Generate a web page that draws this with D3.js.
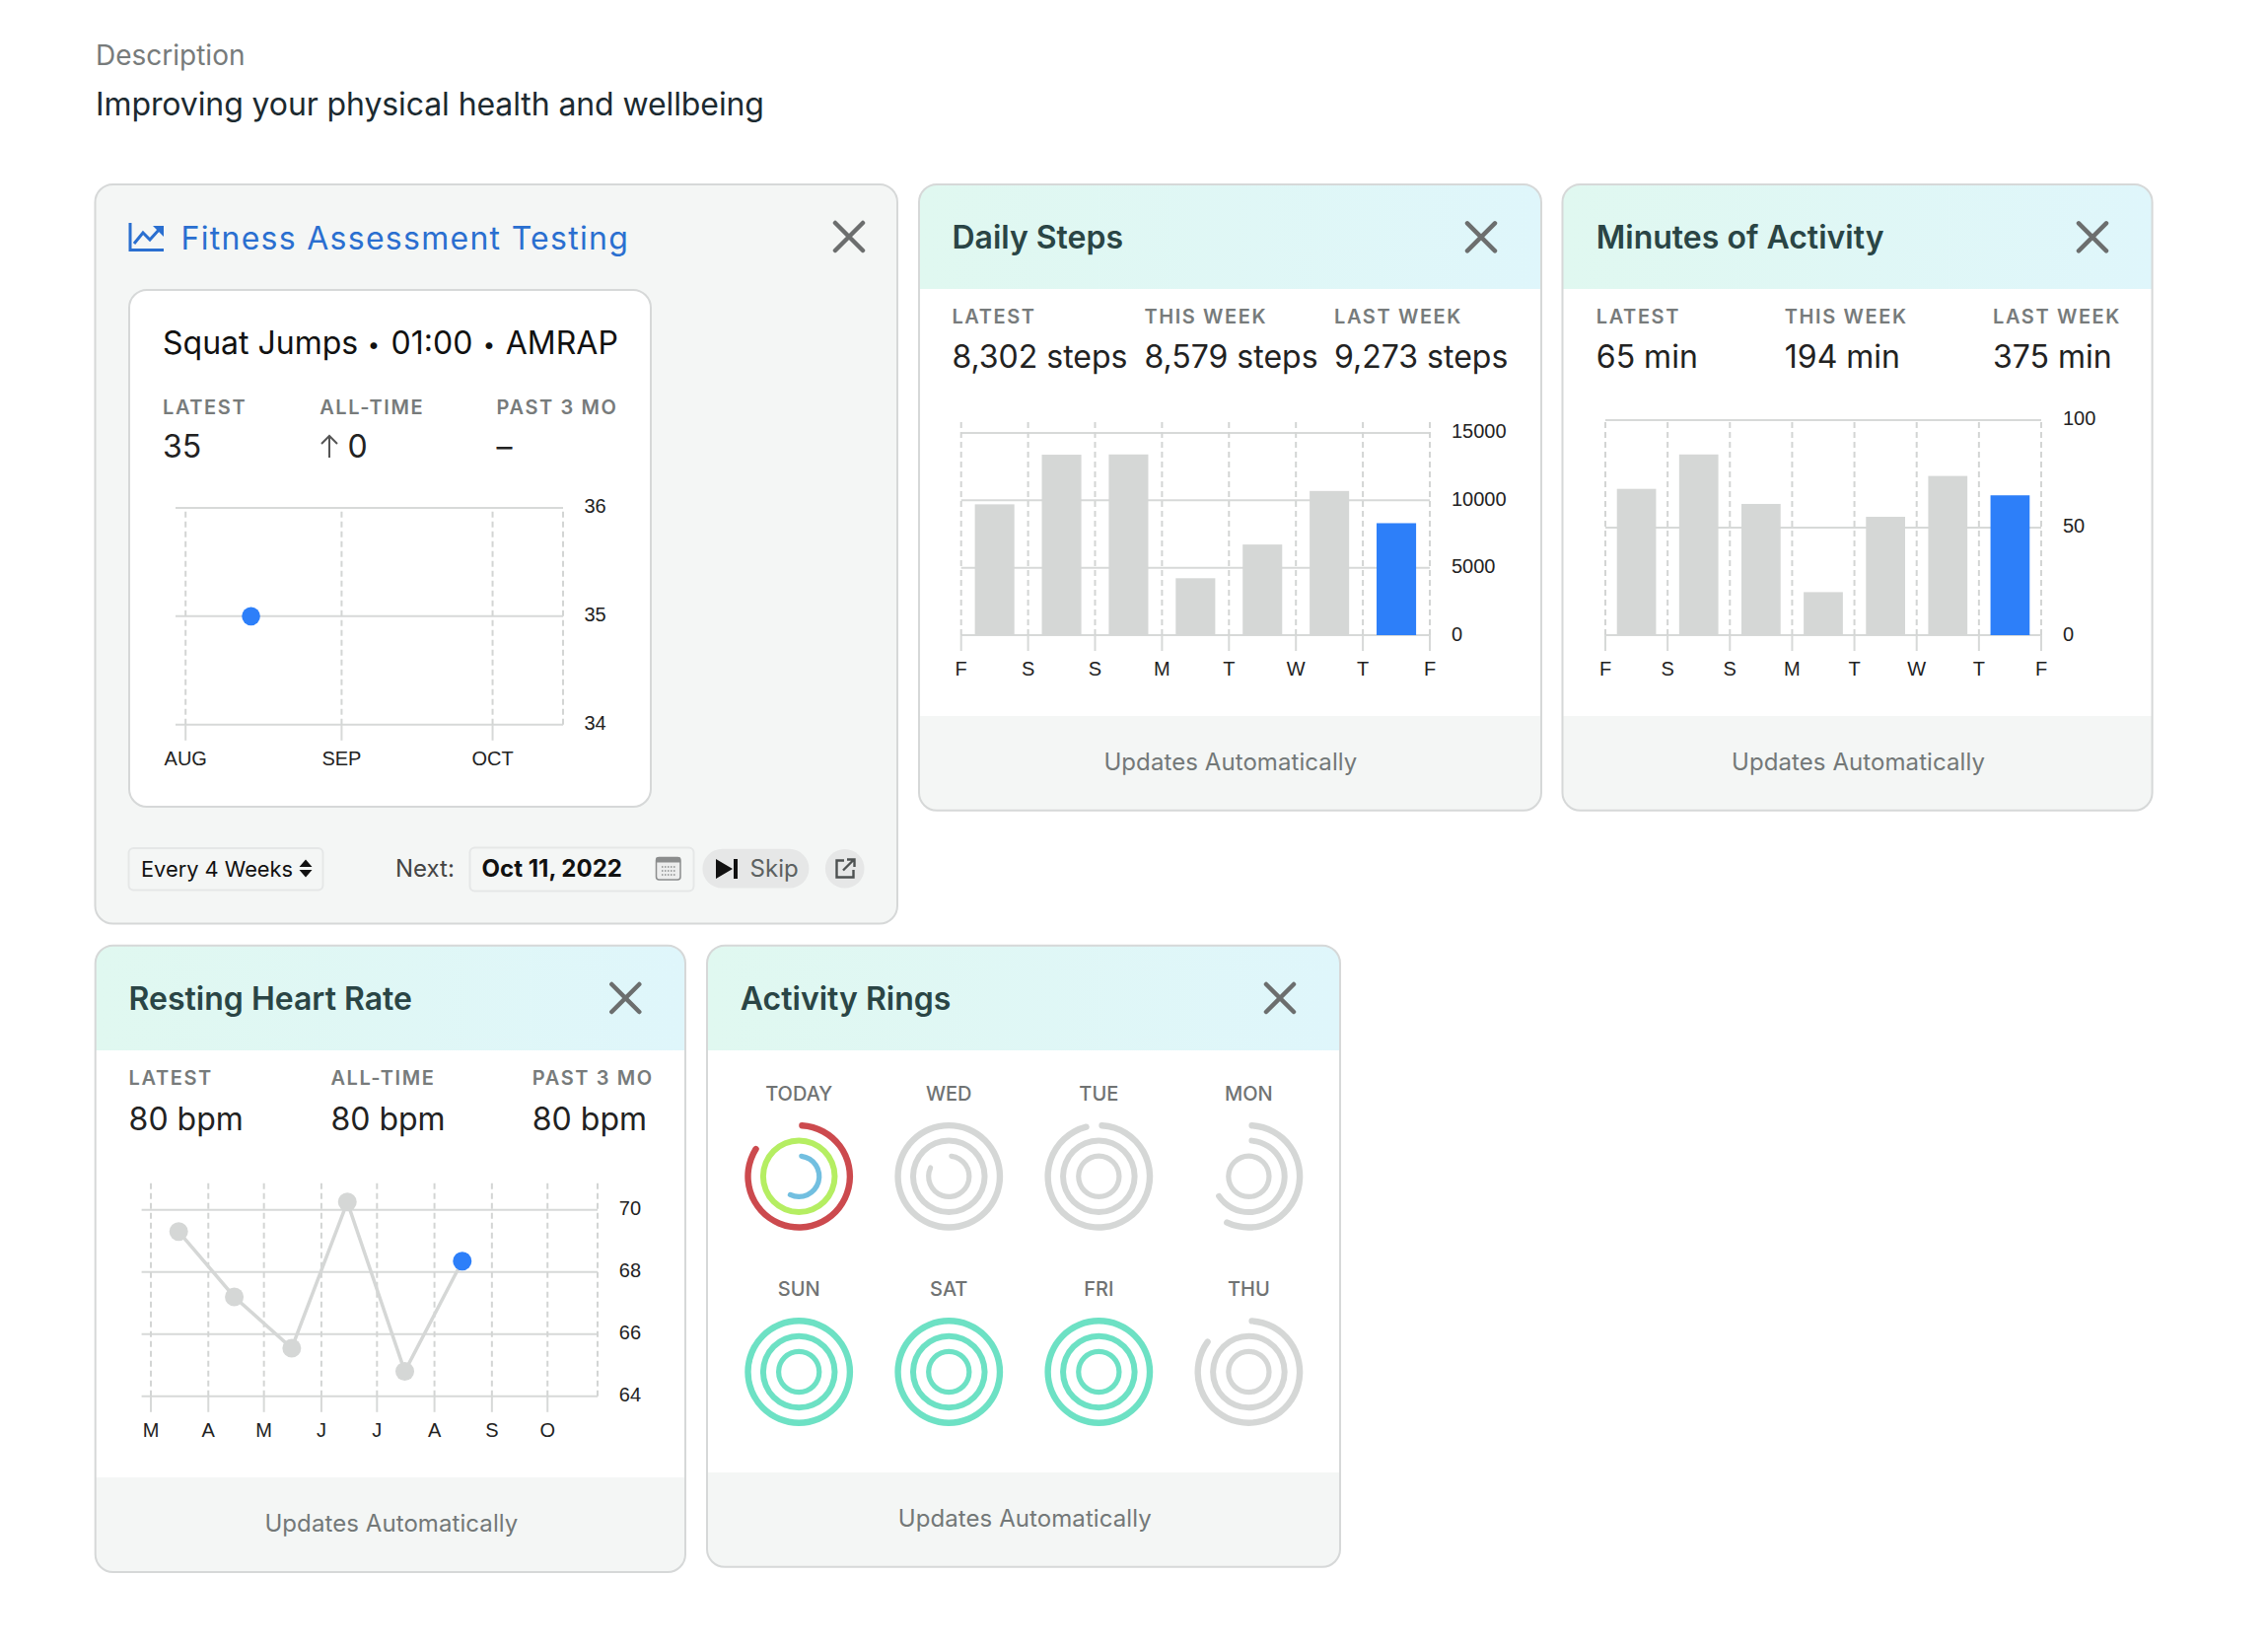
<!DOCTYPE html>
<meta charset="utf-8">
<style>
  body { margin: 0; background: #fff; }
  text { font-family: Inter, sans-serif; }
  .axis text { font-family: "Liberation Sans", Arial, sans-serif; font-size: 20px; fill: #222; }
</style>
<script src="https://d3js.org/d3.v7.min.js"></script>
<div id="page"></div>
<script>
// ---- data ----
var stepDays = ["F", "S", "S", "M", "T", "W", "T", "F"];
var stepValues = [9700, 13380, 13400, 4220, 6720, 10690, 8302];
var stepTicks = [0, 5000, 10000, 15000];

var minuteDays = ["F", "S", "S", "M", "T", "W", "T", "F"];
var minuteValues = [68, 84, 61, 20, 55, 74, 65];
var minuteTicks = [0, 50, 100];

var heartMonths = ["M", "A", "M", "J", "J", "A", "S", "O"];
var heartMonthDates = ["2022-03-01", "2022-04-01", "2022-05-01", "2022-06-01", "2022-07-01", "2022-08-01", "2022-09-01", "2022-10-01"];
var heartDates = ["2022-03-16", "2022-04-15", "2022-05-16", "2022-06-15", "2022-07-16", "2022-08-16"];
var heartValues = [69.3, 67.2, 65.55, 70.25, 64.8, 68.35];
var heartTicks = [64, 66, 68, 70];

var squatMonths = ["AUG", "SEP", "OCT"];
var squatMonthDates = ["2022-08-01", "2022-09-01", "2022-10-01"];
var squatDates = ["2022-08-14"];
var squatValues = [35];
var squatTicks = [34, 35, 36];

var ringDays = ["TODAY", "WED", "TUE", "MON", "SUN", "SAT", "FRI", "THU"];
var ringOuter = [0.85, 1, 0.97, 0.58, 1, 1, 1, 0.86];
var ringMiddle = [1, 1, 1, 0.67, 1, 1, 1, 1];
var ringInner = [0.59, 0.84, 1, 1, 1, 1, 1, 1];

var GRAY = "#d5d7d6", BLUE = "#2d7ff9", TEAL = "#6de1c4", BORDER = "#d6d8d8", PANEL = "#f4f6f5";
var parseDay = d3.timeParse("%Y-%m-%d");

var svg = d3.select("#page").append("svg").attr("width", 2300).attr("height", 1671);
var defs = svg.append("defs");
var grad = defs.append("linearGradient").attr("id", "headGrad");
grad.append("stop").attr("offset", "0%").attr("stop-color", "#e0f8f0");
grad.append("stop").attr("offset", "100%").attr("stop-color", "#dff6fb");

function txt(parent, x, y, str, o) {
  o = o || {};
  return parent.append("text").attr("x", x).attr("y", y).text(str)
    .attr("font-size", o.size || 24)
    .attr("font-weight", o.weight || 400)
    .attr("fill", o.fill || "#222")
    .attr("letter-spacing", o.ls || 0)
    .attr("text-anchor", o.anchor || "start");
}

function closeIcon(cx, cy, s) {
  svg.append("path")
    .attr("d", "M" + (cx - s) + "," + (cy - s) + "L" + (cx + s) + "," + (cy + s) + "M" + (cx - s) + "," + (cy + s) + "L" + (cx + s) + "," + (cy - s))
    .attr("stroke", "#6c6e6e").attr("stroke-width", 4.5).attr("stroke-linecap", "round");
}

var cardCount = 0;
// white card with the gradient head and the grey footer
function card(c) {
  var id = "clip" + (cardCount++);
  defs.append("clipPath").attr("id", id).append("rect")
    .attr("x", c.x0).attr("y", c.y0).attr("width", c.x1 - c.x0).attr("height", c.y1 - c.y0).attr("rx", 18);
  var g = svg.append("g").attr("clip-path", "url(#" + id + ")");
  g.append("rect").attr("x", c.x0).attr("y", c.y0).attr("width", c.x1 - c.x0).attr("height", c.y1 - c.y0).attr("fill", "#fff");
  g.append("rect").attr("x", c.x0).attr("y", c.y0).attr("width", c.x1 - c.x0).attr("height", c.head - c.y0).attr("fill", "url(#headGrad)");
  g.append("rect").attr("x", c.x0).attr("y", c.foot).attr("width", c.x1 - c.x0).attr("height", c.y1 - c.foot).attr("fill", PANEL);
  svg.append("rect").attr("x", c.x0).attr("y", c.y0).attr("width", c.x1 - c.x0).attr("height", c.y1 - c.y0).attr("rx", 18)
    .attr("fill", "none").attr("stroke", BORDER).attr("stroke-width", 2);
  txt(svg, c.titleX, c.y0 + 65, c.title, { size: 32, weight: 600, fill: "#2a4545" });
  closeIcon(c.closeX, c.y0 + 53.3, 14);
  txt(svg, c.footX, c.foot + 55, "Updates Automatically", { size: 24, fill: "#737878", ls: 0.08 });
}

function stats(labels, values, xs, yLabel, yValue) {
  labels.forEach(function(l, i) {
    txt(svg, xs[i], yLabel, l, { size: 20, weight: 600, fill: "#777b7b", ls: 1.6 });
    txt(svg, xs[i], yValue, values[i], { size: 32, fill: "#222" });
  });
}

// gridlines and axes, shared by all four charts
function frame(x, y, o) {
  var g = svg.append("g");
  var yr = y.range(), base = yr[0], xr = x.range();
  // horizontal grid
  var gridY = d3.axisLeft(y).offset(0).tickValues(o.yTicks).tickSize(-(xr[1] - xr[0])).tickFormat("");
  g.append("g").attr("transform", "translate(" + xr[0] + ",0)").call(gridY)
    .call(function(a) { a.select(".domain").remove(); a.selectAll("line").attr("stroke", "#d7d9d8").attr("stroke-width", 2); });
  // dashed verticals
  var gridX = d3.axisBottom(x).offset(0).tickValues(o.dashTicks).tickSize(-(base - o.dashTop)).tickFormat("");
  g.append("g").attr("transform", "translate(0," + base + ")").call(gridX)
    .call(function(a) { a.select(".domain").remove(); a.selectAll("line").attr("stroke", "#d3d5d4").attr("stroke-width", 2).attr("stroke-dasharray", "6,4"); });
  // month or day labels with their solid ticks
  var axX = d3.axisBottom(x).offset(0).tickValues(o.xTicks).tickSize(16).tickPadding(13)
    .tickFormat(function(d, i) { return o.xLabels[i]; });
  g.append("g").attr("class", "axis").attr("transform", "translate(0," + base + ")").call(axX)
    .call(function(a) { a.select(".domain").remove(); a.selectAll("line").attr("stroke", "#d7d9d8").attr("stroke-width", 2); a.selectAll("text").attr("dy", 0).attr("y", 40.8); });
  // value labels
  var axY = d3.axisRight(y).offset(0).tickValues(o.yTicks).tickSize(0).tickPadding(o.yPad).tickFormat(d3.format("d"));
  g.append("g").attr("class", "axis").attr("transform", "translate(" + xr[1] + ",0)").call(axY)
    .call(function(a) { a.select(".domain").remove(); a.selectAll("text").attr("dy", 0).attr("y", 5.5); });
  return g;
}

function barChart(values, ticks, days, box) {
  var y = d3.scaleLinear().domain([0, d3.max(ticks)]).range([box.base, box.top]);
  var x = d3.scaleLinear().domain([0, values.length]).range([box.left, box.right]);
  var band = d3.scaleBand().domain(d3.range(values.length)).range([box.left, box.right]).paddingInner(box.gap).paddingOuter(box.gap / 2);
  var tickIdx = d3.range(values.length + 1);
  frame(x, y, { yTicks: ticks, dashTicks: tickIdx, dashTop: box.dashTop, xTicks: tickIdx, xLabels: days, yPad: box.yPad });
  svg.append("g").selectAll("rect").data(values).join("rect")
    .attr("x", function(d, i) { return band(i); })
    .attr("width", band.bandwidth())
    .attr("y", function(d) { return y(d); })
    .attr("height", function(d) { return y(0) - y(d); })
    .attr("fill", function(d, i) { return i === values.length - 1 ? BLUE : GRAY; });
}

// ---- page head ----
txt(svg, 97, 65.5, "Description", { size: 28, fill: "#777b7b" });
txt(svg, 97, 117, "Improving your physical health and wellbeing", { size: 32, fill: "#1c2a30", ls: -0.1 });

// ---- Fitness Assessment Testing ----
svg.append("rect").attr("x", 96.5).attr("y", 187).attr("width", 813.5).attr("height", 749.5).attr("rx", 18)
  .attr("fill", PANEL).attr("stroke", BORDER).attr("stroke-width", 2);
svg.append("path").attr("d", "M132,226V253.5H166M136,247L145,236L152,243L162,232")
  .attr("fill", "none").attr("stroke", "#2a6fd0").attr("stroke-width", 3);
svg.append("path").attr("d", "M155,229H166V240Z").attr("fill", "#2a6fd0");
txt(svg, 183.5, 252.7, "Fitness Assessment Testing", { size: 32, fill: "#2a6fd0", ls: 1.28 });
closeIcon(861, 240, 14);

svg.append("rect").attr("x", 131).attr("y", 294).attr("width", 529).attr("height", 524).attr("rx", 18)
  .attr("fill", "#fff").attr("stroke", BORDER).attr("stroke-width", 2);
var squatTitle = svg.append("text").attr("x", 165).attr("y", 358.8).attr("font-size", 32).attr("fill", "#111");
squatTitle.append("tspan").text("Squat Jumps ");
squatTitle.append("tspan").attr("font-size", 22).attr("dx", 0.5).attr("dy", -2).text("•");
squatTitle.append("tspan").attr("dx", 2.5).attr("dy", 2).text(" 01:00 ");
squatTitle.append("tspan").attr("font-size", 22).attr("dx", 1.5).attr("dy", -2).text("•");
squatTitle.append("tspan").attr("dx", 1.5).attr("dy", 2).text(" AMRAP");
stats(["LATEST", "ALL-TIME", "PAST 3 MO"], ["35", "0", "–"], [165, 352.5, 503.6], 419.5, 464.4);
svg.selectAll("text").filter(function() { return this.textContent === "ALL-TIME"; }).attr("x", 324.2);
svg.append("path").attr("d", "M334,464V442M326,450L334,442L342,450").attr("fill", "none").attr("stroke", "#555").attr("stroke-width", 2);

var squatX = d3.scaleTime().domain([parseDay("2022-07-30"), parseDay("2022-10-15")]).range([178, 571]);
var squatY = d3.scaleLinear().domain([34, 36]).range([734.8, 514.9]);
var squatTickDates = squatMonthDates.map(parseDay);
frame(squatX, squatY, { yTicks: squatTicks, dashTicks: squatTickDates.concat([squatX.domain()[1]]), dashTop: 514.9, xTicks: squatTickDates, xLabels: squatMonths, yPad: 21.4 });
svg.append("g").selectAll("circle").data(squatDates).join("circle")
  .attr("cx", function(d) { return squatX(parseDay(d)); })
  .attr("cy", function(d, i) { return squatY(squatValues[i]); })
  .attr("r", 9.3).attr("fill", BLUE);

// bottom controls
var ctl = svg.append("g");
ctl.append("rect").attr("x", 130.5).attr("y", 860).attr("width", 197).attr("height", 42.5).attr("rx", 5).attr("fill", PANEL).attr("stroke", "#e5e7e7").attr("stroke-width", 2);
txt(ctl, 143, 888.5, "Every 4 Weeks", { size: 21.8, fill: "#111" });
ctl.append("path").attr("d", "M310,871.5L316.5,879H303.5ZM303.5,882H316.5L310,889.5Z").attr("fill", "#111");
txt(ctl, 401, 889, "Next:", { size: 24, fill: "#444" });
ctl.append("rect").attr("x", 476.5).attr("y", 859.5).attr("width", 227).attr("height", 44).attr("rx", 5).attr("fill", PANEL).attr("stroke", "#e5e7e7").attr("stroke-width", 2);
txt(ctl, 488.6, 889, "Oct 11, 2022", { size: 24, weight: 700, fill: "#111" });
ctl.append("rect").attr("x", 665.5).attr("y", 869.5).attr("width", 24.5).attr("height", 22.5).attr("rx", 3).attr("fill", "#eceded").attr("stroke", "#8b8d8d").attr("stroke-width", 1.5);
ctl.append("rect").attr("x", 665.5).attr("y", 869.5).attr("width", 24.5).attr("height", 5).attr("fill", "#8b8d8d");
ctl.append("path").attr("d", "M671,879h14M671,883h14M671,887h14").attr("stroke", "#8b8d8d").attr("stroke-width", 1.5).attr("stroke-dasharray", "1.5,1.5");
ctl.append("rect").attr("x", 712.4).attr("y", 860.8).attr("width", 108).attr("height", 39.8).attr("rx", 19.9).attr("fill", "#e6e7e7");
ctl.append("path").attr("d", "M726,871L743,881L726,891ZM744,871H748V891H744Z").attr("fill", "#111");
txt(ctl, 760.6, 889, "Skip", { size: 24, fill: "#5c6161" });
ctl.append("circle").attr("cx", 856.7).attr("cy", 880.7).attr("r", 19.8).attr("fill", "#e6e7e7");
ctl.append("path").attr("d", "M856,872.5H848.5V889.5H865.5V882M855,882.5L866,871.5M859,871.5H866.5V879").attr("fill", "none").attr("stroke", "#4d5151").attr("stroke-width", 2.4);

// ---- Daily Steps ----
card({ x0: 932, y0: 187, x1: 1563, y1: 821.8, head: 293, foot: 726, title: "Daily Steps", titleX: 965.4, closeX: 1502, footX: 1119.4 });
stats(["LATEST", "THIS WEEK", "LAST WEEK"], ["8,302 steps", "8,579 steps", "9,273 steps"], [965.4, 1160.4, 1353], 327.9, 373);
barChart(stepValues, stepTicks, stepDays, { left: 974.7, right: 1450, base: 644, top: 438.9, dashTop: 425, yPad: 22, gap: 0.41 });

// ---- Minutes of Activity ----
card({ x0: 1584.5, y0: 187, x1: 2182.6, y1: 821.8, head: 293, foot: 726, title: "Minutes of Activity", titleX: 1618.8, closeX: 2122, footX: 1756 });
stats(["LATEST", "THIS WEEK", "LAST WEEK"], ["65 min", "194 min", "375 min"], [1618.8, 1809.8, 2021], 327.9, 373);
barChart(minuteValues, minuteTicks, minuteDays, { left: 1628, right: 2070, base: 644, top: 425.9, dashTop: 425, yPad: 22, gap: 0.371 });

// ---- Resting Heart Rate ----
card({ x0: 96.7, y0: 958.7, x1: 695, y1: 1594, head: 1065, foot: 1498, title: "Resting Heart Rate", titleX: 130.6, closeX: 634.3, footX: 268.4 });
stats(["LATEST", "ALL-TIME", "PAST 3 MO"], ["80 bpm", "80 bpm", "80 bpm"], [130.6, 335.4, 539.8], 1100, 1145.5);
var heartX = d3.scaleTime().domain([parseDay("2022-02-24"), parseDay("2022-10-28")]).range([143.6, 606]);
var heartY = d3.scaleLinear().domain([64, 70]).range([1415.8, 1226.7]);
var heartTickDates = heartMonthDates.map(parseDay);
frame(heartX, heartY, { yTicks: heartTicks, dashTicks: heartTickDates.concat([heartX.domain()[1]]), dashTop: 1196.3, xTicks: heartTickDates, xLabels: heartMonths, yPad: 21.8 });
var heartPts = heartDates.map(function(d, i) { return [heartX(parseDay(d)), heartY(heartValues[i])]; });
svg.append("path").attr("d", d3.line()(heartPts)).attr("fill", "none").attr("stroke", GRAY).attr("stroke-width", 3.5);
svg.append("g").selectAll("circle").data(heartPts).join("circle")
  .attr("cx", function(d) { return d[0]; })
  .attr("cy", function(d) { return d[1]; })
  .attr("r", 9.5)
  .attr("fill", function(d, i) { return i === heartPts.length - 1 ? BLUE : GRAY; });

// ---- Activity Rings ----
card({ x0: 717, y0: 958.7, x1: 1359, y1: 1588.8, head: 1065, foot: 1493, title: "Activity Rings", titleX: 750.8, closeX: 1298, footX: 910.8 });
var ringCol = d3.scalePoint().domain([0, 1, 2, 3]).range([810.2, 1266.4]);
var ringRow = d3.scalePoint().domain([0, 1]).range([1192.8, 1391]);
var ringAngle = d3.scaleLinear().domain([0, 1]).range([0, 2 * Math.PI]);
var ringRadii = [51.7, 36.3, 20.6], ringWidths = [6.4, 6, 5.2];

ringDays.forEach(function(day, i) {
  var cx = ringCol(i % 4), cy = ringRow(Math.floor(i / 4));
  txt(svg, cx, cy - 77, day, { size: 20, weight: 500, fill: "#707373", anchor: "middle" });
  var g = svg.append("g").attr("transform", "translate(" + cx + "," + cy + ")");
  var colors = i === 0 ? ["#cc4a4e", "#b5ee62", "#72bfe0"] : (i >= 4 && i <= 6 ? [TEAL, TEAL, TEAL] : [GRAY, GRAY, GRAY]);
  [ringOuter[i], ringMiddle[i], ringInner[i]].forEach(function(v, k) {
    g.append("path").attr("fill", colors[k]).attr("d", d3.arc().cornerRadius(ringWidths[k] / 2)({
      innerRadius: ringRadii[k] - ringWidths[k] / 2,
      outerRadius: ringRadii[k] + ringWidths[k] / 2,
      startAngle: 0,
      endAngle: ringAngle(v)
    }));
  });
});
</script>
